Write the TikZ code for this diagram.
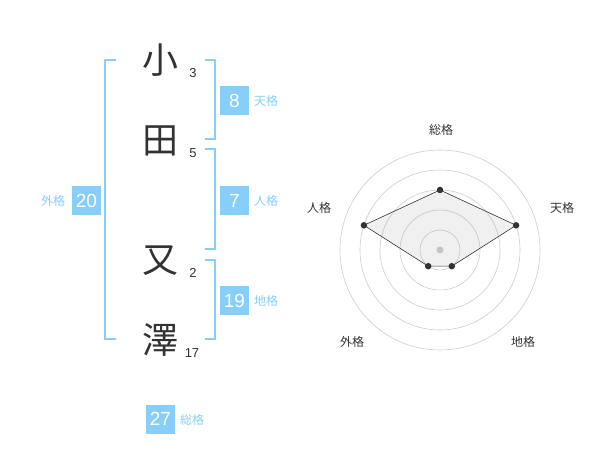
\documentclass[tikz,border=0pt]{standalone}
\usepackage{fontspec}
\setmainfont{Liberation Sans}
\newfontfamily\jp{Noto Sans CJK JP}
\definecolor{skyb}{RGB}{135,206,250}
\definecolor{ink}{RGB}{51,51,51}
\definecolor{ringc}{RGB}{204,204,204}
\begin{document}
\begin{tikzpicture}[x=1pt,y=-1pt,
  kanji/.style={font=\jp\fontsize{36}{36}\selectfont,text=ink,inner sep=0pt},
  strokes/.style={font=\fontsize{13}{13}\selectfont,text=ink,inner sep=0pt},
  numbox/.style={fill=skyb,text=white,minimum width=29pt,minimum height=29pt,inner sep=0pt,font=\fontsize{19}{19}\selectfont},
  kaku/.style={font=\jp\fontsize{12}{12}\selectfont,text=skyb,inner sep=0pt},
  brk/.style={draw=skyb,line width=1.5pt},
  ring/.style={draw=ringc,line width=0.6pt},
  axlab/.style={font=\jp\fontsize{12}{12}\selectfont,text=ink,inner sep=0pt},
  dot/.style={circle,fill=ink,inner sep=0pt,minimum size=6.5pt}]
\useasboundingbox (0,0) rectangle (600,470);
% kanji
\node[kanji] (k1) at (160,60) {小};
\node[kanji] (k2) at (160,141) {田};
\node[kanji] (k3) at (160,261) {又};
\node[kanji] (k4) at (160,340) {澤};
\node[strokes] (s1) at (193,73) {3};
\node[strokes] (s2) at (193,153) {5};
\node[strokes] (s3) at (193,273) {2};
\node[strokes] (s4) at (192,353) {17};
% brackets
\draw[brk] (116,60) -- (105,60) -- (105,339) -- (116,339);
\draw[brk] (205,60) -- (215,60) -- (215,139) -- (205,139);
\draw[brk] (205,149) -- (215,149) -- (215,249) -- (205,249);
\draw[brk] (205,260) -- (215,260) -- (215,339) -- (205,339);
% boxes
\node[numbox] (ten) at (234.5,100.5) {8};
\node[kaku] (tenl) at (266,101) {天格};
\node[numbox] (jin) at (234.5,200.5) {7};
\node[kaku] (jinl) at (266,201) {人格};
\node[numbox] (chi) at (234.5,300.5) {19};
\node[kaku] (chil) at (266,301) {地格};
\node[numbox] (gai) at (86.5,200.5) {20};
\node[kaku] (gail) at (53,201) {外格};
\node[numbox] (sou) at (160.5,419) {27};
\node[kaku] (soul) at (192,420) {総格};
% radar
\coordinate (c) at (440,250);
\foreach \r in {20,40,60,80,100} \draw[ring] (c) circle[radius=\r];
\fill[ringc] (c) circle[radius=3.5];
\path (c) ++(0,-60) coordinate (ps)
      (c) ++(76.1,-24.7) coordinate (pt)
      (c) ++(11.8,16.2) coordinate (pc)
      (c) ++(-11.8,16.2) coordinate (pg)
      (c) ++(-76.1,-24.7) coordinate (pj);
\filldraw[fill=black!40,fill opacity=0.15,draw=ink,line width=0.6pt] (ps) -- (pt) -- (pc) -- (pg) -- (pj) -- cycle;
\foreach \p in {ps,pt,pc,pg,pj} \node[dot] at (\p) {};
\node[axlab] (ls) at (441,130) {総格};
\node[axlab] (lt) at (562,208) {天格};
\node[axlab] (lj) at (319,208) {人格};
\node[axlab] (lg) at (352,342) {外格};
\node[axlab] (lc) at (523,342) {地格};
\end{tikzpicture}
\end{document}
